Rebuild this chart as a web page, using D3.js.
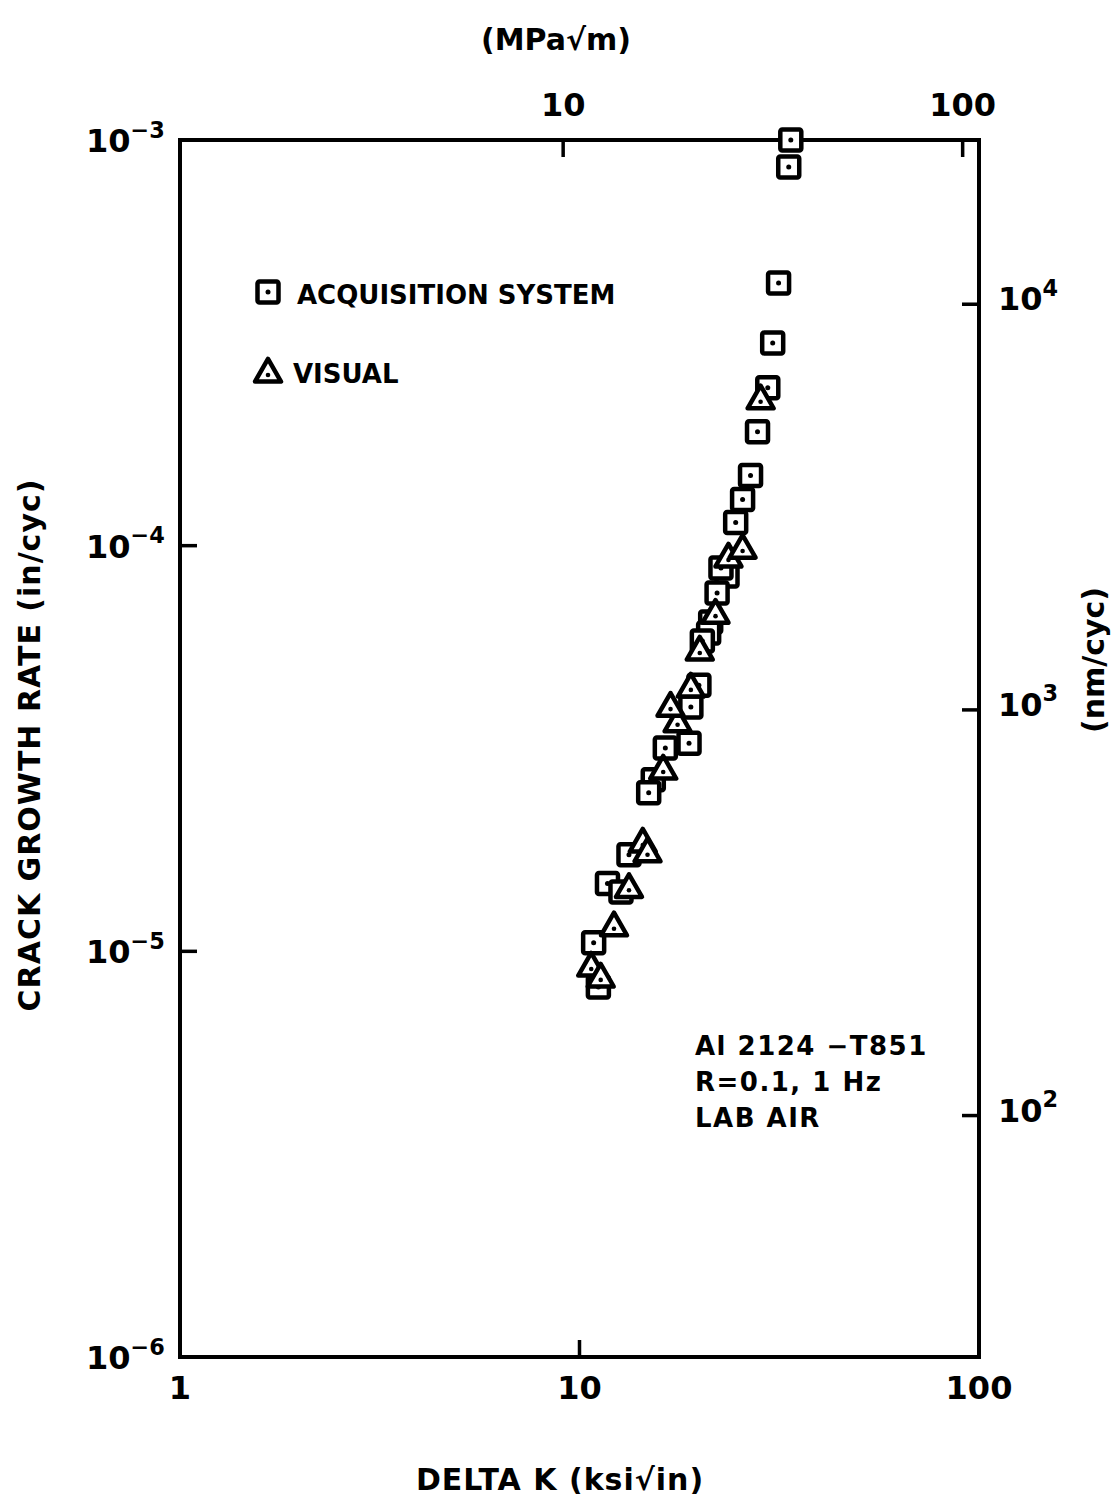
<!DOCTYPE html>
<html>
<head>
<meta charset="utf-8">
<script src="https://cdn.jsdelivr.net/npm/d3@7"></script>
<style>
  body { margin: 0; background: #fff; }
  text { font-family: "DejaVu Sans", sans-serif; font-weight: bold; fill: #000; }
</style>
</head>
<body>
<svg id="chart" width="1119" height="1505"></svg>
<script>
// Acquisition system points: [delta K (ksi sqrt in), da/dN (in/cyc)]
const acqK = [33.8, 33.4, 31.5, 30.45, 29.6, 27.9, 26.8, 25.6, 24.6, 23.4, 22.6, 22.1,
  21.3, 21.05, 20.3, 19.9, 19.0, 18.8, 16.4, 15.3, 14.9, 13.3, 11.75, 12.7, 10.85, 11.15];
const acqRate = [1.0e-3, 8.58e-4, 4.44e-4, 3.16e-4, 2.45e-4, 1.91e-4, 1.49e-4, 1.30e-4, 1.14e-4,
  8.42e-5, 8.81e-5, 7.64e-5, 6.48e-5, 6.09e-5, 5.82e-5, 4.53e-5, 4.00e-5, 3.26e-5, 3.17e-5,
  2.65e-5, 2.46e-5, 1.73e-5, 1.47e-5, 1.40e-5, 1.05e-5, 8.17e-6];

// Visual points
const visK = [10.7, 11.3, 12.2, 13.3, 14.4, 14.8, 16.2, 17.6, 16.9, 19.0, 20.0, 21.9, 23.6, 25.6, 28.4];
const visRate = [9.15e-6, 8.6e-6, 1.15e-5, 1.43e-5, 1.85e-5, 1.75e-5, 2.80e-5, 3.66e-5, 4.00e-5,
  4.46e-5, 5.50e-5, 6.78e-5, 9.33e-5, 9.81e-5, 2.29e-4];

const bottomTicks = [1, 10, 100];
const leftTicks = [1e-3, 1e-4, 1e-5, 1e-6];
const topTicks = [10, 100];          // MPa sqrt m
const rightTicks = [1e4, 1e3, 1e2];  // nm/cyc
const KSI_PER_MPA = 1 / 1.0988;
const IN_PER_NM = 1 / 2.54e7;

const svg = d3.select("#chart");
const pl = 180, pr = 979, pt = 140, pb = 1357;

const x = d3.scaleLog().domain([1, 100]).range([pl, pr]);
const y = d3.scaleLog().domain([1e-6, 1e-3]).range([pb, pt]);

// frame
svg.append("rect")
  .attr("x", pl).attr("y", pt)
  .attr("width", pr - pl).attr("height", pb - pt)
  .attr("fill", "none").attr("stroke", "#000").attr("stroke-width", 4);

const tickLen = 17;
const g = svg.append("g").attr("stroke", "#000").attr("stroke-width", 3.5);

// bottom ticks (inward)
bottomTicks.filter(d => d > 1 && d < 100).forEach(d => {
  g.append("line").attr("x1", x(d)).attr("x2", x(d)).attr("y1", pb).attr("y2", pb - tickLen);
});
// top ticks (MPa)
topTicks.forEach(d => {
  g.append("line").attr("x1", x(d * KSI_PER_MPA)).attr("x2", x(d * KSI_PER_MPA))
    .attr("y1", pt).attr("y2", pt + tickLen);
});
// left ticks
leftTicks.filter(d => d > 1e-6 && d < 1e-3).forEach(d => {
  g.append("line").attr("x1", pl).attr("x2", pl + tickLen).attr("y1", y(d)).attr("y2", y(d));
});
// right ticks (nm/cyc)
rightTicks.forEach(d => {
  g.append("line").attr("x1", pr).attr("x2", pr - tickLen)
    .attr("y1", y(d * IN_PER_NM)).attr("y2", y(d * IN_PER_NM));
});

// power-of-ten label helper
function pow10(sel, px, py, exp, anchor, size) {
  const t = sel.append("text").attr("x", px).attr("y", py)
    .attr("text-anchor", anchor).attr("font-size", size);
  t.append("tspan").text("10");
  t.append("tspan").attr("dy", -size * 0.45).attr("font-size", size * 0.7).text(exp);
  return t;
}

const labels = svg.append("g");
leftTicks.forEach(d => {
  const e = Math.round(Math.log10(d));
  pow10(labels, 86, y(d) + 12, "\u2212" + (-e), "start", 32);
});
rightTicks.forEach(d => {
  const e = Math.round(Math.log10(d));
  pow10(labels, 998, y(d * IN_PER_NM) + 6, String(e), "start", 32);
});
bottomTicks.forEach(d => {
  labels.append("text").attr("x", x(d)).attr("y", pb + 42)
    .attr("text-anchor", "middle").attr("font-size", 32).text(d);
});
topTicks.forEach(d => {
  labels.append("text").attr("x", x(d * KSI_PER_MPA)).attr("y", pt - 24)
    .attr("text-anchor", "middle").attr("font-size", 32).text(d);
});

// axis titles
labels.append("text").attr("x", 556).attr("y", 50).attr("text-anchor", "middle")
  .attr("font-size", 30).text("(MPa\u221Am)");
labels.append("text").attr("x", 560).attr("y", 1490).attr("text-anchor", "middle")
  .attr("font-size", 30).attr("letter-spacing", 1).text("DELTA K (ksi\u221Ain)");
labels.append("text").attr("transform", "translate(40,745) rotate(-90)")
  .attr("text-anchor", "middle").attr("font-size", 30).attr("letter-spacing", 1)
  .text("CRACK GROWTH RATE (in/cyc)");
labels.append("text").attr("transform", "translate(1104,660) rotate(-90)")
  .attr("text-anchor", "middle").attr("font-size", 30).text("(nm/cyc)");

// markers
const sq = 21, tri = 26;
function square(sel, cx, cy) {
  sel.append("rect").attr("x", cx - sq / 2).attr("y", cy - sq / 2)
    .attr("width", sq).attr("height", sq).attr("rx", 2)
    .attr("fill", "#fff").attr("stroke", "#000").attr("stroke-width", 4.5);
  sel.append("circle").attr("cx", cx).attr("cy", cy).attr("r", 2.5).attr("fill", "#000");
}
function triangle(sel, cx, cy) {
  const h = tri * 0.87;
  sel.append("path")
    .attr("d", `M${cx},${cy - h * 0.62}L${cx + tri / 2},${cy + h * 0.38}L${cx - tri / 2},${cy + h * 0.38}Z`)
    .attr("fill", "#fff").attr("stroke", "#000").attr("stroke-width", 4.5).attr("stroke-linejoin", "round");
  sel.append("circle").attr("cx", cx).attr("cy", cy + 2).attr("r", 2.3).attr("fill", "#000");
}

const marks = svg.append("g");
const visData = visK.map((k, i) => [k, visRate[i]]);
const acqData = acqK.map((k, i) => [k, acqRate[i]]);
acqData.forEach(d => square(marks, x(d[0]), y(d[1])));
visData.forEach(d => triangle(marks, x(d[0]), y(d[1])));

// legend
const leg = svg.append("g");
square(leg, 268, 292);
leg.append("text").attr("x", 297).attr("y", 304).attr("font-size", 26).text("ACQUISITION  SYSTEM");
triangle(leg, 268, 373);
leg.append("text").attr("x", 293).attr("y", 383).attr("font-size", 26).text("VISUAL");

// annotation
const note = ["Al  2124 \u2212T851", "R=0.1,  1 Hz", "LAB  AIR"];
note.forEach((t, i) => {
  leg.append("text").attr("x", 695).attr("y", 1055 + i * 36).attr("font-size", 26)
    .attr("letter-spacing", 1.5).text(t);
});
</script>
</body>
</html>
